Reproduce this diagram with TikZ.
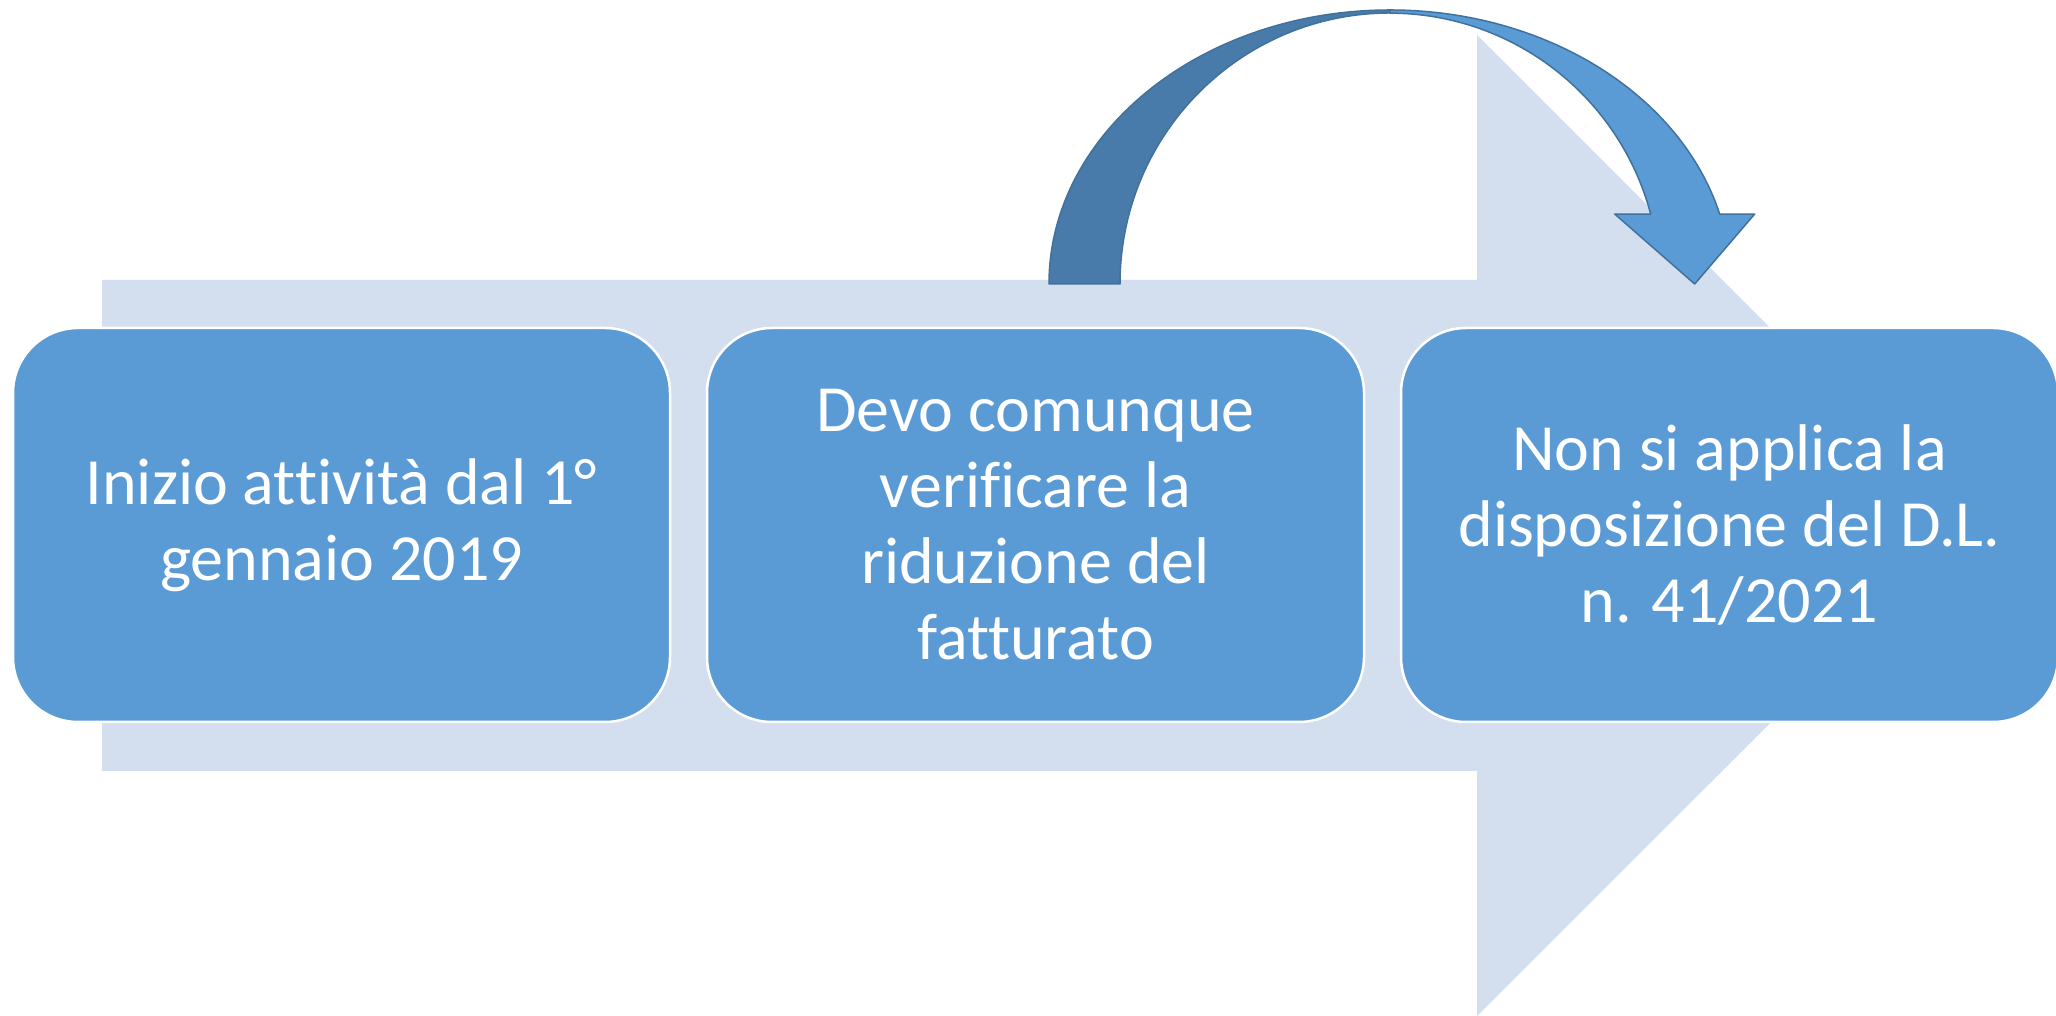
\documentclass[tikz,border=0pt]{standalone}
\usepackage{fontspec}
\setmainfont{Carlito}[Ligatures=CommonOff]
\usetikzlibrary{positioning}
\definecolor{stepfill}{HTML}{5B9BD5}
\definecolor{trackfill}{HTML}{D3DEEF}
\definecolor{bandfill}{HTML}{487BAA}
\definecolor{bandline}{HTML}{41719C}

\begin{document}
\begin{tikzpicture}[x=1pt,y=1pt,
   stepbox/.style={draw=white,line width=2.5pt,fill=stepfill,
      rounded corners=65pt,minimum width=657pt,minimum height=394pt,
      inner sep=0pt,outer sep=0pt,text=white,align=center,
      font=\fontsize{66}{76}\selectfont},
   band/.style={draw=bandline,line width=1.5pt,line join=round},
   node distance=37pt]

\useasboundingbox (0,0) rectangle (2056,1016);
\fill[white] (0,0) rectangle (2056,1016);
\fill[trackfill] (102,245) -- (102,736) -- (1477,736) -- (1477,981)
   -- (1968,490.5) -- (1477,0) -- (1477,245) -- cycle;

\node[stepbox] (inizio) at (341.5,491) {Inizio attività dal 1°\\gennaio 2019};
\node[stepbox,right=of inizio] (verifica)
   {Devo comunque\\verificare la\\riduzione del\\fatturato};
\node[stepbox,right=37pt of verifica] (norma)
   {Non si applica la\\disposizione del D.L.\\n. 41/2021};

\coordinate (hub) at ([xshift=354.5pt,yshift=44pt]verifica.north);

\filldraw[band,fill=bandfill] ([xshift=-341pt]hub)
   arc[start angle=180,end angle=90,x radius=341,y radius=274]
   -- ++(0,-3)
   arc[start angle=90,end angle=180,x radius=270,y radius=271] -- cycle;
\filldraw[band,fill=stepfill] ([yshift=274pt]hub)
   arc[start angle=90,end angle=14.8,x radius=341,y radius=274]
   -- ++(35,0) -- ++(-60,-70) -- ++(-80,70) -- ++(36,0)
   arc[start angle=15,end angle=90,x radius=270,y radius=271] -- cycle;

\end{tikzpicture}
\end{document}
